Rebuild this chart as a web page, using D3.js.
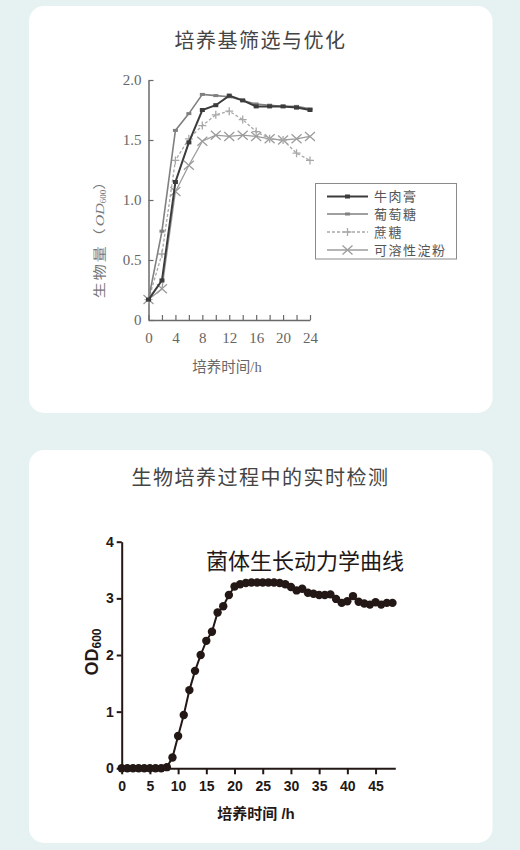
<!DOCTYPE html>
<html><head><meta charset="utf-8">
<script src="https://cdn.jsdelivr.net/npm/d3@7"></script>
<style>
html,body{margin:0;padding:0;background:#e6f2f1;}
svg{display:block}
</style></head><body>
<svg id="c" width="520" height="850"></svg>
<script>
// ---- Chart 1 data: 培养基筛选与优化 ----
const time1 = [0, 2, 4, 6, 8, 10, 12, 14, 16, 18, 20, 22, 24];
const beef = [0.17, 0.33, 1.15, 1.48, 1.75, 1.79, 1.87, 1.83, 1.78, 1.78, 1.78, 1.77, 1.75];
const glucose = [0.17, 0.74, 1.58, 1.72, 1.88, 1.87, 1.86, 1.83, 1.80, 1.79, 1.78, 1.78, 1.76];
const sucrose = [0.17, 0.55, 1.33, 1.51, 1.62, 1.71, 1.74, 1.67, 1.57, 1.51, 1.50, 1.39, 1.33];
const starch = [0.17, 0.26, 1.07, 1.29, 1.49, 1.54, 1.53, 1.54, 1.53, 1.51, 1.50, 1.51, 1.53];
const seriesNames1 = ["牛肉膏", "葡萄糖", "蔗糖", "可溶性淀粉"];
const xTicks1 = [0, 2, 4, 6, 8, 10, 12, 14, 16, 18, 20, 22, 24];
const yTicks1 = [0, 0.5, 1.0, 1.5, 2.0];

// ---- Chart 2 data: 生物培养过程中的实时检测 ----
const time2 = [0,1,2,3,4,5,6,7,8,9,10,11,12,13,14,15,16,17,18,19,20,21,22,23,24,25,26,27,28,29,30,31,32,33,34,35,36,37,38,39,40,41,42,43,44,45,46,47,48];
const od600 = [0.0,0.0,0.0,0.0,0.0,0.0,0.0,0.0,0.02,0.19,0.57,0.94,1.38,1.72,2.0,2.25,2.41,2.75,2.86,3.06,3.21,3.25,3.27,3.28,3.28,3.28,3.28,3.28,3.27,3.25,3.20,3.14,3.17,3.10,3.08,3.06,3.06,3.07,2.99,2.92,2.95,3.04,2.94,2.91,2.89,2.93,2.89,2.92,2.92];
const xTicks2 = [0, 5, 10, 15, 20, 25, 30, 35, 40, 45];
const yTicks2 = [0, 1, 2, 3, 4];

const svg = d3.select("#c");
const CJK = "'Noto Sans CJK SC', 'Noto Sans', sans-serif";

// cards
svg.append("rect").attr("x", 29).attr("y", 6).attr("width", 463.5).attr("height", 407).attr("rx", 15).attr("fill", "#fff");
svg.append("rect").attr("x", 29).attr("y", 450).attr("width", 463.5).attr("height", 393).attr("rx", 15).attr("fill", "#fff");

// titles
svg.append("text").attr("x", 260.5).attr("y", 48).attr("text-anchor", "middle")
  .style("font-family", CJK).style("font-size", "20px").style("letter-spacing", "1.5px").attr("fill", "#444").text("培养基筛选与优化");
svg.append("text").attr("x", 260.5).attr("y", 485).attr("text-anchor", "middle")
  .style("font-family", CJK).style("font-size", "20px").style("letter-spacing", "1.5px").attr("fill", "#444").text("生物培养过程中的实时检测");

// ================= Chart 1 =================
const g1 = svg.append("g");
const x1 = d3.scaleLinear().domain([0, 24]).range([148.5, 310]);
const y1 = d3.scaleLinear().domain([0, 2]).range([320, 80]);
const axCol = "#6a6a6a";

const xa1 = g1.append("g").attr("transform", "translate(0,320)")
  .call(d3.axisBottom(x1).tickValues(xTicks1).tickSize(-5).tickSizeOuter(0).tickPadding(12)
    .tickFormat(d => d % 4 === 0 ? d : ""));
const ya1 = g1.append("g").attr("transform", "translate(148.5,0)")
  .call(d3.axisLeft(y1).tickValues(yTicks1).tickSize(-5).tickSizeOuter(0).tickPadding(7)
    .tickFormat(d => d === 0 ? "0" : d3.format(".1f")(d)));
[xa1, ya1].forEach(a => {
  a.select(".domain").attr("stroke", axCol).attr("stroke-width", 1.5);
  a.selectAll(".tick line").attr("stroke", axCol).attr("stroke-width", 1.2);
  a.selectAll(".tick text").attr("fill", "#666").style("font-family", "'Liberation Serif', serif").style("font-size", "15px");
});

g1.append("text").attr("x", 227).attr("y", 372).attr("text-anchor", "middle")
  .style("font-family", "'Liberation Serif', " + CJK).style("font-size", "14.5px").attr("fill", "#666").text("培养时间/h");

const yl = g1.append("text").attr("transform", "translate(104,235) rotate(-90) scale(1,0.8)").attr("text-anchor", "middle")
  .style("font-family", CJK).style("font-size", "16px").style("letter-spacing", "2px").attr("fill", "#777");
yl.append("tspan").text("生物量（");
yl.append("tspan").style("font-style", "italic").style("font-family", "'Liberation Serif', serif").style("letter-spacing", "0px").text("OD");
yl.append("tspan").attr("dy", 3).style("font-size", "9px").style("letter-spacing", "0px").style("font-family", "'Liberation Serif', serif").text("600");
yl.append("tspan").attr("dy", -3).text("）");

const styles1 = [
  {data: beef, color: "#3c3c3c", w: 2, dash: null, mark: "square"},
  {data: glucose, color: "#808080", w: 1.6, dash: null, mark: "dash"},
  {data: sucrose, color: "#a8a8a8", w: 1.3, dash: "3,2", mark: "plus"},
  {data: starch, color: "#9c9c9c", w: 1.3, dash: null, mark: "x"}
];
const line1 = d3.line().x((d, i) => x1(time1[i])).y(d => y1(d));

function drawMark(g, type, cx, cy, color) {
  if (type === "square") {
    g.append("rect").attr("x", cx - 2.5).attr("y", cy - 2).attr("width", 5).attr("height", 4).attr("fill", color);
  } else if (type === "dash") {
    g.append("rect").attr("x", cx - 2.5).attr("y", cy - 1.5).attr("width", 5).attr("height", 3).attr("fill", color);
  } else if (type === "plus") {
    g.append("path").attr("d", `M${cx - 4},${cy}H${cx + 4}M${cx},${cy - 4}V${cy + 4}`).attr("stroke", color).attr("stroke-width", 1.3);
  } else if (type === "x") {
    g.append("path").attr("d", `M${cx - 5},${cy - 4.5}L${cx + 5},${cy + 4.5}M${cx - 5},${cy + 4.5}L${cx + 5},${cy - 4.5}`).attr("stroke", color).attr("stroke-width", 1.3);
  }
}

// draw lighter series first
[3, 2, 1, 0].forEach(k => {
  const s = styles1[k];
  const gs = g1.append("g");
  gs.append("path").attr("d", line1(s.data)).attr("fill", "none").attr("stroke", s.color)
    .attr("stroke-width", s.w).attr("stroke-dasharray", s.dash);
  s.data.forEach((v, i) => drawMark(gs, s.mark, x1(time1[i]), y1(v), s.color));
});

// legend
const lg = g1.append("g");
lg.append("rect").attr("x", 315.5).attr("y", 183.5).attr("width", 141).attr("height", 75.5).attr("fill", "#fff").attr("stroke", "#8a8a8a").attr("stroke-width", 1);
const rowsY = [196.5, 214, 232, 250];
styles1.forEach((s, k) => {
  const y = rowsY[k];
  lg.append("line").attr("x1", 327).attr("x2", 368).attr("y1", y).attr("y2", y).attr("stroke", s.color)
    .attr("stroke-width", s.w).attr("stroke-dasharray", s.dash);
  drawMark(lg, s.mark, 347.5, y, s.color);
  lg.append("text").attr("x", 374).attr("y", y + 4.5).style("font-family", CJK).style("font-size", "13px")
    .style("letter-spacing", "1.5px").attr("fill", "#555").text(seriesNames1[k]);
});

// ================= Chart 2 =================
const g2 = svg.append("g");
const x2 = d3.scaleLinear().domain([0, 48.5]).range([121.7, 395.3]);
const y2 = d3.scaleLinear().domain([0, 4]).range([768.3, 541.7]);
const ink = "#231815";

const xa2 = g2.append("g").attr("transform", "translate(0,768.3)")
  .call(d3.axisBottom(x2).tickValues(xTicks2).tickSize(6).tickSizeOuter(0).tickPadding(7).tickFormat(d3.format("d")));
const ya2 = g2.append("g").attr("transform", "translate(121.7,0)")
  .call(d3.axisLeft(y2).tickValues(yTicks2).tickSize(5).tickSizeOuter(0).tickPadding(3).tickFormat(d3.format("d")));
[xa2, ya2].forEach(a => {
  a.select(".domain").attr("stroke", ink).attr("stroke-width", 2);
  a.selectAll(".tick line").attr("stroke", ink).attr("stroke-width", 2);
  a.selectAll(".tick text").attr("fill", ink).style("font-family", "'Liberation Sans', Arial, sans-serif")
    .style("font-size", "14px").style("font-weight", "bold");
});

const line2 = d3.line().x((d, i) => x2(time2[i])).y(d => y2(d));
g2.append("path").attr("d", line2(od600)).attr("fill", "none").attr("stroke", ink).attr("stroke-width", 2);
g2.selectAll("circle.pt").data(od600).join("circle").attr("class", "pt")
  .attr("cx", (d, i) => x2(time2[i])).attr("cy", d => y2(d)).attr("r", 4.2).attr("fill", ink);

g2.append("text").attr("x", 206).attr("y", 569).style("font-family", CJK).style("font-size", "22px")
  .attr("fill", ink).text("菌体生长动力学曲线");

const yl2 = g2.append("text").attr("transform", "translate(98,652) rotate(-90)").attr("text-anchor", "middle")
  .style("font-family", "'Liberation Sans', Arial, sans-serif").style("font-weight", "bold").attr("fill", ink);
yl2.append("tspan").style("font-size", "18px").text("OD");
yl2.append("tspan").attr("dy", 3).style("font-size", "12px").text("600");

g2.append("text").attr("x", 256).attr("y", 819).attr("text-anchor", "middle")
  .style("font-family", "'Liberation Sans', " + CJK).style("font-size", "15px").style("font-weight", "bold")
  .attr("fill", ink).text("培养时间 /h");
</script>
</body></html>
